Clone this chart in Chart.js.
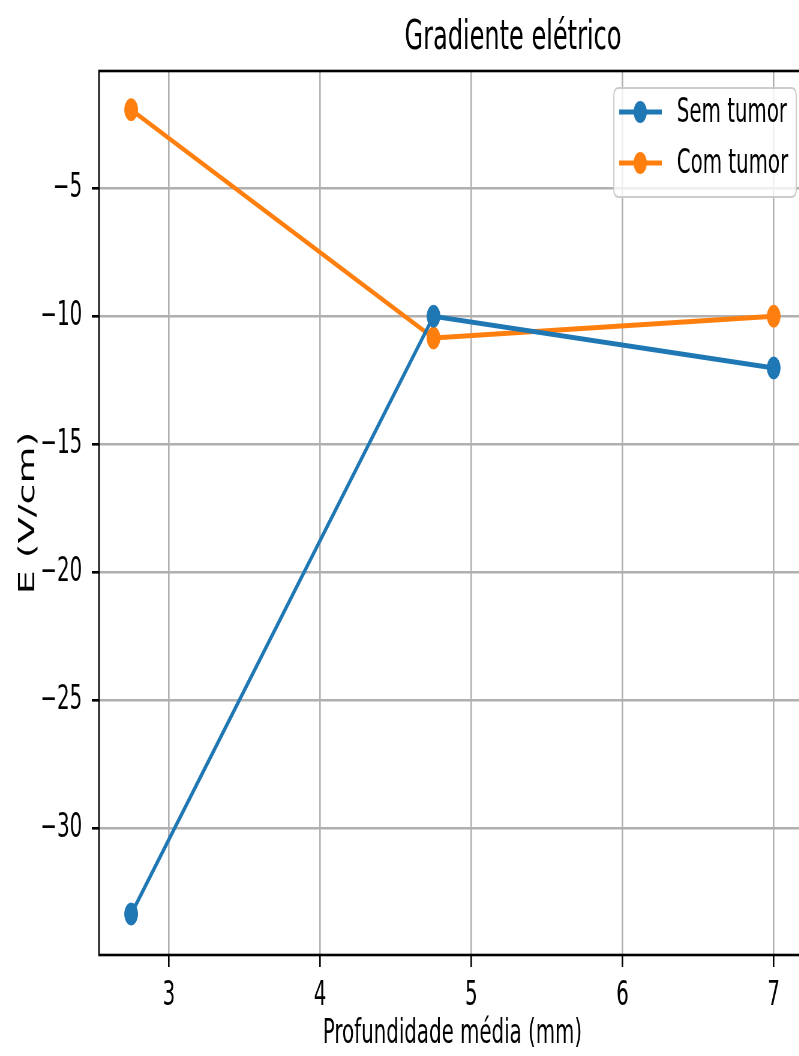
<!DOCTYPE html>
<html>
<head>
<meta charset="utf-8">
<script src="https://cdn.jsdelivr.net/npm/chart.js@4/dist/chart.umd.min.js"></script>
<style>
  html, body { margin: 0; padding: 0; background: #fff; overflow: hidden; width: 799px; height: 1056px; }
  #chart { display: block; transform: scaleX(0.6); transform-origin: 0 0; }
</style>
</head>
<body>
<canvas id="chart" width="1345" height="1056"></canvas>
<script>
// data
const depths = [2.75, 4.75, 7];
const semTumor = [-33.35, -10, -12.02];
const comTumor = [-1.93, -10.85, -10];
const seriesLabels = ["Sem tumor", "Com tumor"];
const seriesColors = ["#1f77b4", "#ff7f0e"];
const xTicks = [3, 4, 5, 6, 7];
const yTicks = [-5, -10, -15, -20, -25, -30];

const titleText = "Gradiente elétrico";
const xTitle = "Profundidade média (mm)";
const yTitle = "E (V/cm)";

function toPoints(values) {
  return depths.map(function (d, i) {
    return { x: d, y: values[i] };
  });
}

function minus(v) {
  return String(v).replace("-", "\u2212");
}

Chart.defaults.font.family = "'DejaVu Sans', sans-serif";
Chart.defaults.color = "#000";

const frameAndTitle = {
  id: "frameAndTitle",
  afterDatasetsDraw: function (chart) {
    const ctx = chart.ctx;
    const a = chart.chartArea;
    ctx.save();
    ctx.strokeStyle = "#000";
    ctx.lineWidth = 2.6;
    ctx.strokeRect(a.left, a.top, a.right - a.left, a.bottom - a.top);
    ctx.restore();
  },
  afterDraw: function (chart) {
    const ctx = chart.ctx;
    ctx.save();
    ctx.fillStyle = "#000";
    ctx.font = "40px 'DejaVu Sans'";
    ctx.textAlign = "center";
    ctx.textBaseline = "alphabetic";
    ctx.fillText(titleText, 855, 49);

    // legend box (upper right, inside the axes)
    const a = chart.chartArea;
    const boxRight = a.right - 16;
    const boxLeft = boxRight - 304;
    const boxTop = a.top + 17;
    const boxBottom = boxTop + 109;
    const r = 8;
    ctx.beginPath();
    ctx.moveTo(boxLeft + r, boxTop);
    ctx.lineTo(boxRight - r, boxTop);
    ctx.quadraticCurveTo(boxRight, boxTop, boxRight, boxTop + r);
    ctx.lineTo(boxRight, boxBottom - r);
    ctx.quadraticCurveTo(boxRight, boxBottom, boxRight - r, boxBottom);
    ctx.lineTo(boxLeft + r, boxBottom);
    ctx.quadraticCurveTo(boxLeft, boxBottom, boxLeft, boxBottom - r);
    ctx.lineTo(boxLeft, boxTop + r);
    ctx.quadraticCurveTo(boxLeft, boxTop, boxLeft + r, boxTop);
    ctx.closePath();
    ctx.fillStyle = "rgba(255,255,255,0.8)";
    ctx.fill();
    ctx.strokeStyle = "#cccccc";
    ctx.lineWidth = 2;
    ctx.stroke();

    chart.data.datasets.forEach(function (ds, i) {
      const y = boxTop + 24 + i * 51;
      ctx.strokeStyle = ds.borderColor;
      ctx.lineWidth = 5;
      ctx.beginPath();
      ctx.moveTo(boxLeft + 9, y);
      ctx.lineTo(boxLeft + 80, y);
      ctx.stroke();
      ctx.fillStyle = ds.borderColor;
      ctx.beginPath();
      ctx.arc(boxLeft + 44, y, 11, 0, Math.PI * 2);
      ctx.fill();
      ctx.fillStyle = "#000";
      ctx.font = "33px 'DejaVu Sans'";
      ctx.textAlign = "left";
      ctx.textBaseline = "middle";
      ctx.fillText(ds.label, boxLeft + 105, y + 1);
    });
    ctx.restore();
  }
};

function makeDataset(label, values, color) {
  return {
    label: label,
    data: toPoints(values),
    borderColor: color,
    backgroundColor: color,
    borderWidth: 5,
    pointRadius: 11,
    pointBorderWidth: 1,
    pointBackgroundColor: color,
    pointBorderColor: color,
    tension: 0
  };
}

new Chart(document.getElementById("chart").getContext("2d"), {
  type: "line",
  data: {
    datasets: [
      makeDataset(seriesLabels[0], semTumor, seriesColors[0]),
      makeDataset(seriesLabels[1], comTumor, seriesColors[1])
    ]
  },
  options: {
    responsive: false,
    animation: false,
    layout: { autoPadding: false, padding: { top: 71, right: 2, left: 0, bottom: 0 } },
    plugins: {
      legend: { display: false },
      title: { display: false },
      tooltip: { enabled: false }
    },
    scales: {
      x: {
        type: "linear",
        min: 2.5375,
        max: 7.2125,
        afterFit: function (scale) {
          scale.height = 101;
          scale.paddingLeft = 0;
          scale.paddingRight = 0;
        },
        afterBuildTicks: function (scale) {
          scale.ticks = xTicks.map(function (v) { return { value: v }; });
        },
        ticks: {
          font: { size: 33 },
          padding: 10,
          maxRotation: 0,
          callback: function (v) { return minus(v); }
        },
        grid: {
          color: "#b0b0b0",
          lineWidth: 2.6,
          tickColor: "#000",
          tickLength: 12,
          tickWidth: 2.6
        },
        border: { display: false },
        title: {
          display: true,
          text: xTitle,
          font: { size: 33 },
          padding: { top: 0, bottom: 2 }
        }
      },
      y: {
        min: -34.95,
        max: -0.42,
        afterFit: function (scale) {
          scale.width = 165;
          scale.paddingTop = 0;
          scale.paddingBottom = 0;
        },
        afterBuildTicks: function (scale) {
          scale.ticks = yTicks.map(function (v) { return { value: v }; });
        },
        ticks: {
          font: { size: 33 },
          padding: 16,
          callback: function (v) { return minus(v); }
        },
        grid: {
          color: "#b0b0b0",
          lineWidth: 2.6,
          tickColor: "#000",
          tickLength: 12,
          tickWidth: 2.6
        },
        border: { display: false },
        title: {
          display: true,
          text: yTitle,
          font: { size: 38 },
          padding: { top: 24, bottom: 0 }
        }
      }
    }
  },
  plugins: [frameAndTitle]
});
</script>
</body>
</html>
